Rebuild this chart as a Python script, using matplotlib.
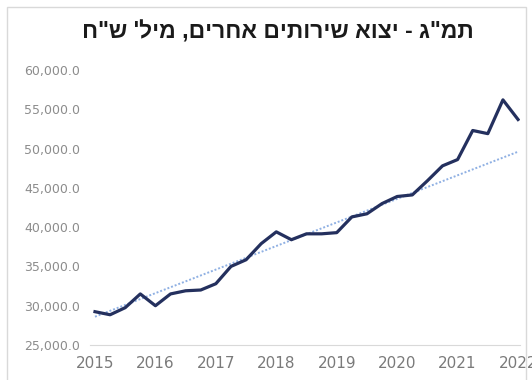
"""
GDP - exports of other services, quarterly, NIS million, with a linear trend.
"""

import matplotlib
matplotlib.use("Agg")
import matplotlib.pyplot as plt
from matplotlib.patches import Rectangle
from matplotlib.ticker import FuncFormatter
import numpy as np

# quarterly series 2015Q1 .. 2022Q1
years = [2015, 2016, 2017, 2018, 2019, 2020, 2021, 2022]
quarters = [f"{y}Q{q}" for y in years for q in range(1, 5)][:29]
exports = [29240, 28850, 29750, 31500, 30000, 31500, 31900, 32000,
           32800, 35000, 35850, 37900, 39400, 38400, 39150, 39150,
           39300, 41300, 41700, 43000, 43900, 44100, 45900, 47800,
           48600, 52300, 51900, 56200, 53700]
# linear trend, value at first and last quarter
trend = [28600, 49600]
y_ticks = [25000, 30000, 35000, 40000, 45000, 50000, 55000, 60000]

title = 'תמ"ג - יצוא שירותים אחרים, מיל\' ש"ח'

NAVY = "#24305e"
TREND = "#8fb0e3"

fig = plt.figure(figsize=(5.32, 3.80), dpi=100)
fig.patch.set_facecolor("white")

# chart area frame
fig.patches.append(Rectangle((0.013, -0.02), 0.976, 1.002, transform=fig.transFigure,
                             fill=False, edgecolor="#d9d9d9", lw=1.0))

ax = fig.add_axes([0.1686, 0.0921, 0.808, 0.7237])
x = np.arange(len(exports))
ax.plot(x, exports, color=NAVY, lw=2.3, solid_joinstyle="round", zorder=3)
ax.plot([x[0], x[-1]], trend, color=TREND, lw=1.4, ls=(0, (1, 1.0)), zorder=2)

ax.set_xlim(-0.35, 28.1)
ax.set_ylim(25000, 60000)
ax.set_yticks(y_ticks)
ax.yaxis.set_major_formatter(FuncFormatter(lambda v, p: f"{v:,.1f}"))
ax.set_xticks(x[::4])
ax.set_xticklabels([q[:4] for q in quarters[::4]])

for s in ["top", "right", "left"]:
    ax.spines[s].set_visible(False)
ax.spines["bottom"].set_color("#d9d9d9")
ax.spines["bottom"].set_linewidth(0.8)

ax.tick_params(axis="y", length=0, pad=7, labelsize=9, labelcolor="#8c8c8c")
ax.tick_params(axis="x", length=0, pad=8, labelsize=11, labelcolor="#7a7a7a")
for lab in ax.get_xticklabels() + ax.get_yticklabels():
    lab.set_family(["DejaVu Sans"])

# matplotlib has no bidi support, so the Hebrew title is given in visual order
fig.text(0.523, 0.915, title[::-1], ha="center", va="center", fontsize=16.5,
         fontweight="bold", color="#1a1a1a", family=["Liberation Sans", "DejaVu Sans"])

fig.savefig("out.png", dpi=100)
